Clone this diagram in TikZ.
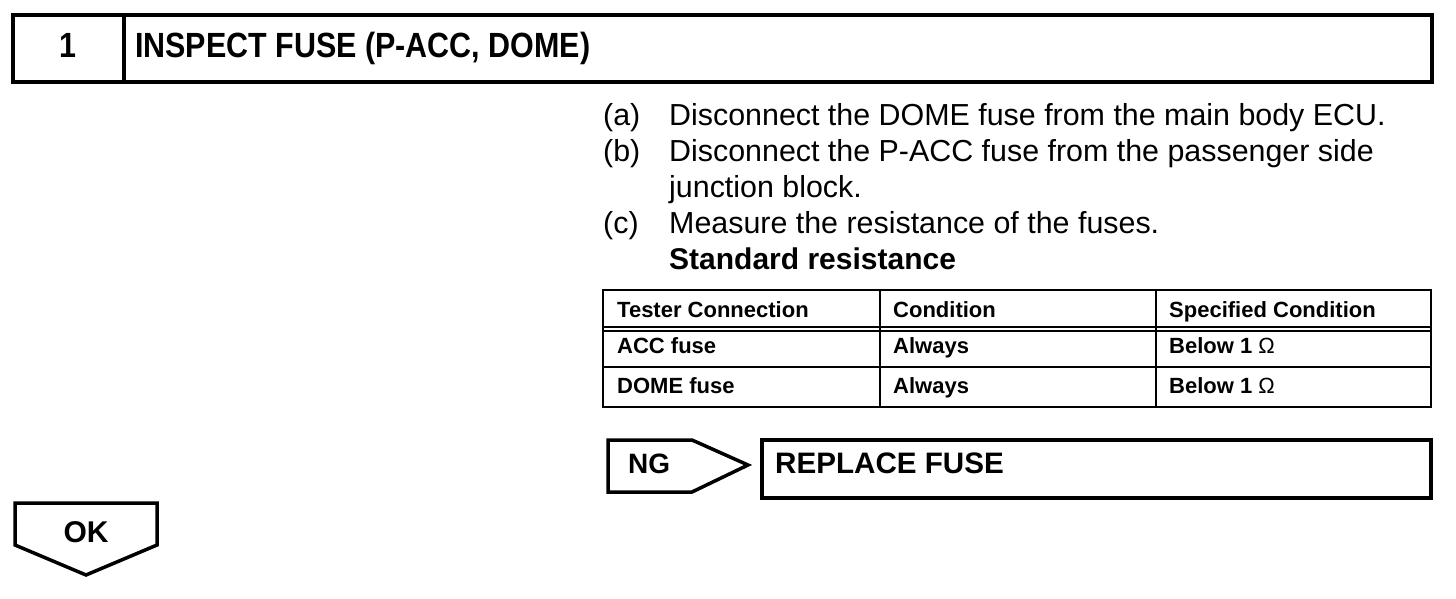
\documentclass[tikz,border=0pt]{standalone}
\usepackage{fontspec}
\setmainfont{Liberation Sans}
\newfontfamily\narrowfont{Liberation Sans}[FakeStretch=0.87]
\usetikzlibrary{positioning}
\tikzset{
  heavy/.style={draw, line width=4pt},
  medium/.style={draw, line width=3.5pt},
  rule/.style={draw, line width=2pt},
  body/.style={anchor=base west, inner sep=0pt, font=\fontsize{30.4}{36}\selectfont},
  cell/.style={anchor=base west, inner sep=0pt, font=\fontsize{22}{26}\selectfont\bfseries},
  tag/.style={anchor=base, inner sep=0pt, font=\fontsize{30}{34}\selectfont\bfseries},
}

\begin{document}
\begin{tikzpicture}[x=1pt,y=-1pt]
  \useasboundingbox (0,0) rectangle (1456,598);
  % step title bar
  \draw[heavy] (13,15) rectangle (1432,82);
  \draw[heavy] (124,15) -- (124,82);
  \node[anchor=base, inner sep=0pt, font=\narrowfont\fontsize{35}{40}\selectfont\bfseries] (stepno) at (68,57) {1};
  \node[anchor=base west, inner sep=0pt, font=\narrowfont\fontsize{35}{40}\selectfont\bfseries] (title) at (135,57) {INSPECT FUSE (P-ACC, DOME)};
  % procedure
  \node[body] (la) at (603,125) {(a)};
  \node[body] (ta) at (669,125) {Disconnect the DOME fuse from the main body ECU.};
  \node[body] (lb) at (603,161) {(b)};
  \node[body] (tb) at (669,161) {Disconnect the P-ACC fuse from the passenger side};
  \node[body] (tb2) at (669,197) {junction block.};
  \node[body] (lc) at (603,233) {(c)};
  \node[body] (tc) at (669,233) {Measure the resistance of the fuses.};
  \node[body, font=\fontsize{30}{36}\selectfont\bfseries] (std) at (669,269) {Standard resistance};
  % table
  \draw[rule] (603,290) rectangle (1431,407);
  \draw[rule] (603,327) -- (1431,327);
  \draw[rule] (603,331) -- (1431,331);
  \draw[rule] (603,367) -- (1431,367);
  \foreach \x in {880,1156} \draw[rule] (\x,290) -- (\x,407);
  \foreach \y/\a/\b/\c in {317/Tester Connection/Condition/Specified Condition,
                           353/ACC fuse/Always/Below 1 {\mdseries Ω},
                           393/DOME fuse/Always/Below 1 {\mdseries Ω}} {
    \node[cell] (conn-\y) at (617,\y) {\a};
    \node[cell] (cond-\y) at (893,\y) {\b};
    \node[cell] (spec-\y) at (1169,\y) {\c};
  }
  % NG branch
  \draw[medium] (608,440) -- (692,440) -- (748,465) -- (692,492) -- (608,492) -- cycle;
  \node[anchor=base west, inner sep=0pt, font=\fontsize{28}{32}\selectfont\bfseries] (ng) at (628,473) {NG};
  \draw[medium] (762,440) rectangle (1431,498);
  \node[anchor=base west, inner sep=0pt, font=\fontsize{29.6}{34}\selectfont\bfseries] (replace) at (775,473) {REPLACE FUSE};
  % OK branch
  \draw[medium] (15,503) -- (157,503) -- (157,545) -- (86,575) -- (15,545) -- cycle;
  \node[tag] (ok) at (86,542) {OK};
\end{tikzpicture}
\end{document}
